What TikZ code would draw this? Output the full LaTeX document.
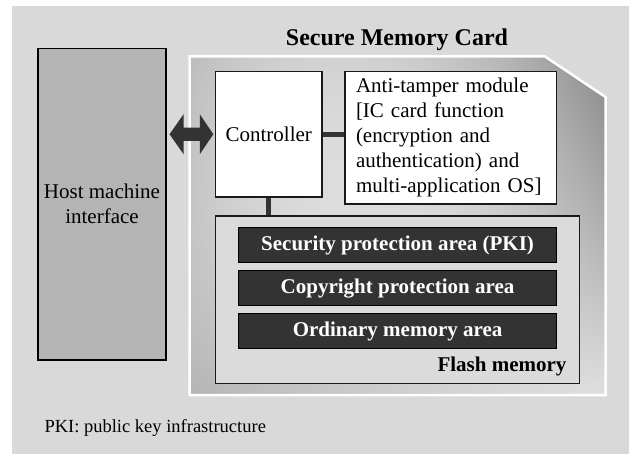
\documentclass[tikz,border=0pt]{standalone}
\usepackage{fontspec}
\setmainfont{Liberation Serif}
\usetikzlibrary{calc}
\definecolor{bggray}{RGB}{217,217,217}
\definecolor{hostgray}{RGB}{180,180,180}
\definecolor{flashgray}{RGB}{219,219,219}
\definecolor{bardark}{RGB}{51,51,51}
\pgfdeclarefunctionalshading{cardshade}{\pgfpoint{0bp}{0bp}}{\pgfpoint{100bp}{100bp}}{}{
  25 sub 50 div exch 25 sub 50 div
  1 index dup 184 mul 344 sub mul 12 sub
  1 index mul
  2 index dup -116 mul 180 add mul 56 add add
  mul
  exch dup -48 mul 56 add mul 180 add add
  255 div dup dup
}
\tikzset{
  txt/.style={font=\fontsize{21}{25}\selectfont},
  whitebox/.style={draw=black!90, line width=1.4pt, fill=white, inner sep=0pt, txt},
  hostbox/.style={draw=black, line width=1.1pt, fill=hostgray, inner sep=0pt, align=center, txt},
  flashbox/.style={draw=black!90, line width=1.4pt, fill=flashgray, inner sep=0pt},
  barbox/.style={draw=black, line width=1pt, fill=bardark, text=white, inner sep=0pt,
    minimum width=318.5pt, minimum height=35pt, font=\fontsize{21}{25}\selectfont\bfseries},
  conn/.style={draw=bardark, line width=4.8pt},
  arrowfill/.style={fill=bardark}
}
\begin{document}
\begin{tikzpicture}[x=1pt,y=-1pt]
\useasboundingbox (0,0) rectangle (629,454);
\fill[bggray] (12,6) rectangle (629,454);
% card body
\path[shading=cardshade]
  (189.5,56.5) -- (545,56.5) -- (605.5,97) -- (605.5,395) -- (189.5,395) -- cycle;
\draw[white, line width=2.5pt, line join=miter]
  (189.5,56.5) -- (545,56.5) -- (605.5,97) -- (605.5,395) -- (189.5,395) -- cycle;
\node[font=\fontsize{24}{28}\selectfont\bfseries] (title) at (397,40) {Secure Memory Card};
% nodes
\node[hostbox, minimum width=128pt, minimum height=311.5pt] (host) at (102,204.25)
  {Host machine\\interface};
\node[whitebox, minimum width=106.5pt, minimum height=125.5pt] (ctrl) at (268.75,134.25) {Controller};
\node[whitebox, minimum width=211.5pt, minimum height=132.5pt, text width=189.5pt,
  inner xsep=11pt, align=left] (anti) at (450.75,137.75)
  {Anti-tamper module\\\relax[IC card function\\(encryption and\\authentication) and\\multi-application OS]};
\node[flashbox, minimum width=363.8pt, minimum height=167.3pt] (flash) at (397.4,299.65) {};
\node[barbox] (sec) at (397.55,245.2) {Security protection area (PKI)};
\node[barbox] (copy) at (397.55,288.2) {Copyright protection area};
\node[barbox] (ord) at (397.55,331) {Ordinary memory area};
\node[anchor=east, font=\fontsize{21}{25}\selectfont\bfseries] (flashlbl) at (570,366.5) {Flash memory};
\node[anchor=west, font=\fontsize{18.5}{22}\selectfont] (pki) at (41,428) {PKI: public key infrastructure};
% connectors
\draw[conn] (ctrl.east) -- (ctrl.east -| anti.west);
\draw[conn] (ctrl.south) -- (ctrl.south |- flash.north);
% double arrow host <-> controller
\coordinate (aL) at (host.east |- ctrl.west);
\coordinate (aR) at (ctrl.west);
\fill[arrowfill] ($(aL)+(3,0)$) -- ($(aL)+(17,-20)$) -- ($(aL)+(17,-6.7)$)
  -- ($(aR)+(-15,-6.7)$) -- ($(aR)+(-15,-20)$) -- ($(aR)+(-1.5,0)$)
  -- ($(aR)+(-15,20)$) -- ($(aR)+(-15,6.7)$) -- ($(aL)+(17,6.7)$)
  -- ($(aL)+(17,20)$) -- cycle;
\end{tikzpicture}
\end{document}
